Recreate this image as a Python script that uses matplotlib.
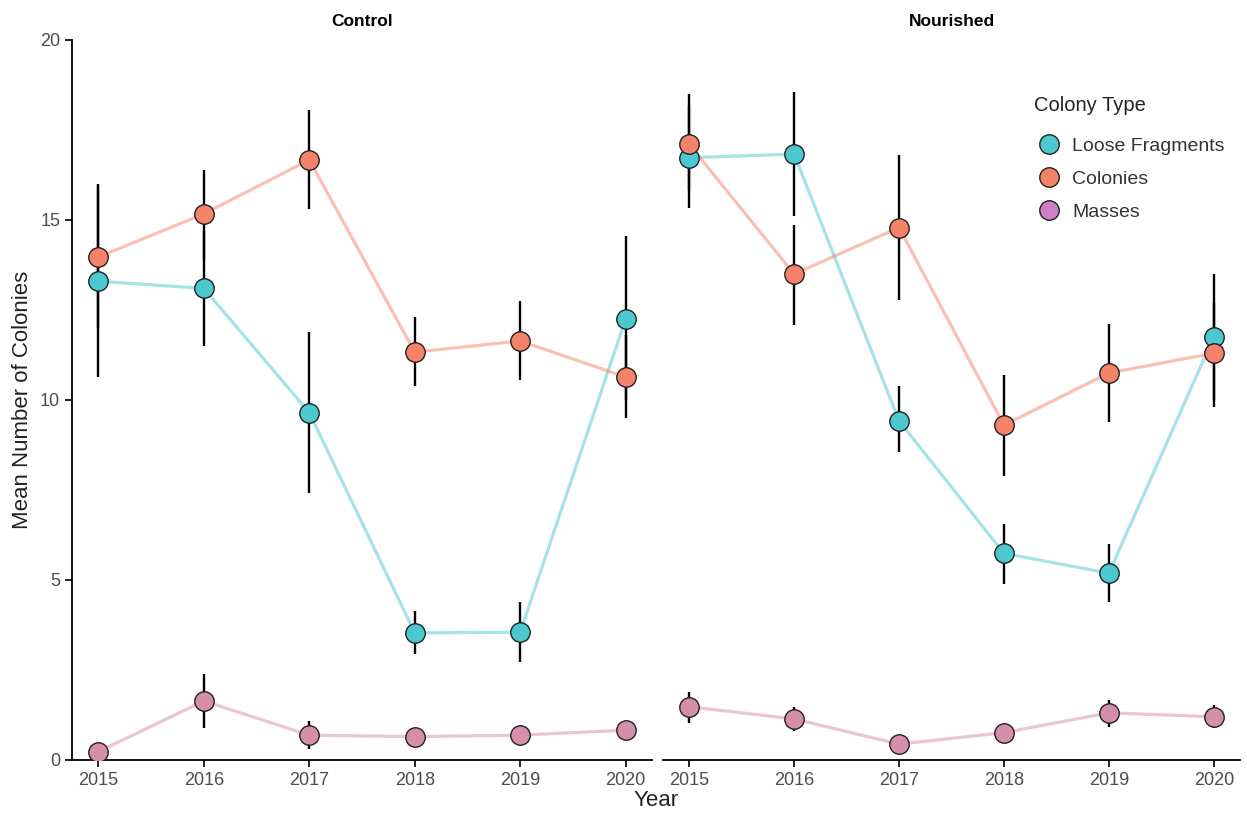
import matplotlib
matplotlib.use("Agg")
import matplotlib.pyplot as plt
from matplotlib.lines import Line2D

plt.rcParams["font.family"] = ["Liberation Sans", "DejaVu Sans"]

years = [2015, 2016, 2017, 2018, 2019, 2020]
types = ["Loose Fragments", "Colonies", "Masses"]
panels = ["Control", "Nourished"]

# mean values and error bar ends (low, high)
control_mean = {
    "Loose Fragments": [13.3, 13.1, 9.65, 3.53, 3.55, 12.25],
    "Colonies": [13.97, 15.17, 16.67, 11.33, 11.64, 10.64],
    "Masses": [0.23, 1.64, 0.69, 0.65, 0.69, 0.83],
}
control_low = {
    "Loose Fragments": [10.65, 11.5, 7.42, 2.94, 2.73, 10.0],
    "Colonies": [12.0, 13.9, 15.3, 10.4, 10.55, 9.5],
    "Masses": [0.2, 0.9, 0.3, 0.6, 0.64, 0.78],
}
control_high = {
    "Loose Fragments": [15.95, 14.7, 11.9, 4.15, 4.39, 14.55],
    "Colonies": [16.0, 16.4, 18.05, 12.3, 12.75, 11.8],
    "Masses": [0.26, 2.38, 1.08, 0.7, 0.74, 0.88],
}
nourished_mean = {
    "Loose Fragments": [16.73, 16.83, 9.42, 5.74, 5.19, 11.75],
    "Colonies": [17.1, 13.5, 14.79, 9.3, 10.75, 11.3],
    "Masses": [1.48, 1.14, 0.44, 0.76, 1.31, 1.2],
}
nourished_low = {
    "Loose Fragments": [15.32, 15.1, 8.55, 4.9, 4.4, 10.0],
    "Colonies": [15.8, 12.08, 12.78, 7.9, 9.4, 9.8],
    "Masses": [1.04, 0.81, 0.4, 0.72, 0.91, 0.88],
}
nourished_high = {
    "Loose Fragments": [18.2, 18.56, 10.4, 6.55, 6.0, 13.5],
    "Colonies": [18.49, 14.86, 16.8, 10.7, 12.1, 12.7],
    "Masses": [1.9, 1.48, 0.48, 0.8, 1.67, 1.53],
}

fill_colors = {"Loose Fragments": "#4cc8d0", "Colonies": "#f7826a", "Masses": "#d68fab"}
legend_colors = {"Loose Fragments": "#4cc8d0", "Colonies": "#f7826a", "Masses": "#cf7fc6"}

fig = plt.figure(figsize=(12.47, 8.16), dpi=100)
ax1 = fig.add_axes([72 / 1247, 56 / 816, 580 / 1247, 720 / 816])
ax2 = fig.add_axes([663 / 1247, 56 / 816, 577 / 1247, 720 / 816], sharey=ax1)

data = [(ax1, control_mean, control_low, control_high),
        (ax2, nourished_mean, nourished_low, nourished_high)]

for i, (ax, mean, low, high) in enumerate(data):
    for t in types:
        for y, lo, hi in zip(years, low[t], high[t]):
            ax.plot([y, y], [lo, hi], color="black", lw=1.7, zorder=2,
                    solid_capstyle="butt")
    for t in types:
        ax.plot(years, mean[t], color=fill_colors[t], lw=2.3, alpha=0.5, zorder=3)
    for t in types:
        ax.plot(years, mean[t], ls="none", marker="o", ms=14,
                mfc=fill_colors[t], mec="#222222", mew=1.0, zorder=4)

    ax.set_xlim(2014.75, 2020.25)
    ax.set_ylim(0, 20)
    ax.set_xticks(years)
    ax.set_xticklabels([str(y) for y in years])
    ax.set_title(panels[i], fontsize=12.5, fontweight="bold", pad=10)
    for s in ["top", "right"]:
        ax.spines[s].set_visible(False)
    ax.spines["bottom"].set_linewidth(1.3)
    ax.spines["left"].set_linewidth(1.3)
    ax.tick_params(axis="both", labelsize=13, labelcolor="#4d4d4d",
                   length=5, width=1.2, color="black")

ax1.set_yticks([0, 5, 10, 15, 20])
ax1.set_ylabel("Mean Number of Colonies", fontsize=16, color="#222222", labelpad=5)
ax2.spines["left"].set_visible(False)
ax2.tick_params(axis="y", left=False, labelleft=False)

fig.text(656 / 1247, 15 / 816, "Year", ha="center", va="center", fontsize=16,
         color="#222222")

handles = [Line2D([], [], ls="none", marker="o", ms=14, mfc=legend_colors[t],
                  mec="#222222", mew=1.0) for t in types]
leg = ax2.legend(handles, types, title="Colony Type", loc="upper left",
                 bbox_to_anchor=(0.63, 0.933), frameon=False, fontsize=14,
                 title_fontsize=14.5, handletextpad=0.45, labelspacing=0.8,
                 borderaxespad=0, handlelength=1.5)
leg._legend_box.align = "left"
leg._legend_box.sep = 16
for txt in leg.get_texts():
    txt.set_color("#333333")
leg.get_title().set_color("#222222")

fig.savefig("out.png", dpi=100)
